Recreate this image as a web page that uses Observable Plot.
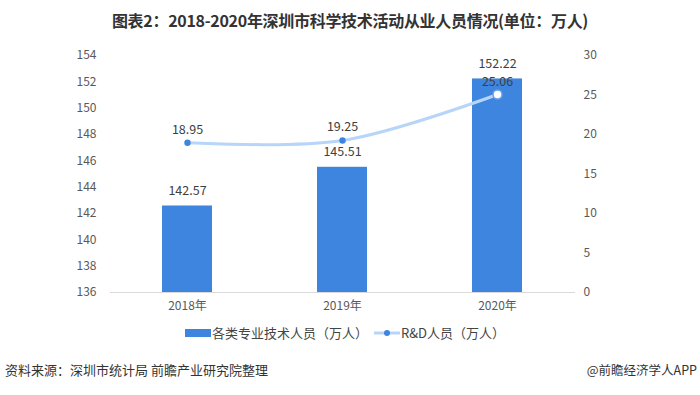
<!DOCTYPE html>
<html><head><meta charset="utf-8">
<script src="https://cdn.jsdelivr.net/npm/d3@7"></script>
<script src="https://cdn.jsdelivr.net/npm/@observablehq/plot@0.6"></script>
<style>
body{margin:0;background:#fff;font-family:"Noto Sans CJK SC","Noto Sans",sans-serif;}
#wrap{position:relative;width:700px;height:395px;overflow:hidden;}
#title{position:absolute;top:8px;left:0;width:700px;text-align:center;font-size:16px;line-height:24px;font-weight:bold;color:#333;letter-spacing:-0.3px;}
#chart{position:absolute;top:0;left:0;}
#legend{position:absolute;top:323px;left:0;width:700px;font-size:13px;color:#444;}
.li{position:absolute;display:flex;align-items:center;}
#src{position:absolute;top:360px;left:5px;font-size:13px;color:#333;}
#app{position:absolute;top:360px;right:3px;font-size:12.5px;color:#333;}
</style></head>
<body><div id="wrap">
<div id="title">图表2：2018-2020年深圳市科学技术活动从业人员情况(单位：万人)</div>
<div id="chart"></div>
<div id="legend">
 <div class="li" style="left:185px;top:0"><svg width="26" height="18"><rect x="0" y="5" width="26" height="8" fill="#3d85de"/></svg><span style="margin-left:1px">各类专业技术人员（万人）</span></div>
 <div class="li" style="left:374px;top:0"><svg width="26" height="18"><line x1="0" y1="9" x2="26" y2="9" stroke="#b7d5f8" stroke-width="3"/><circle cx="13" cy="9" r="3" fill="#3d85de"/></svg><span style="margin-left:1px">R&amp;D人员（万人）</span></div>
</div>
<div id="src">资料来源：深圳市统计局 前瞻产业研究院整理</div>
<div id="app">@前瞻经济学人APP</div>
</div>
<script>
const years = ["2018年","2019年","2020年"];
const techStaff = [142.57,145.51,152.22];
const rdStaff = [18.95,19.25,25.06];
const leftTicks = [136,138,140,142,144,146,148,150,152,154];
const rightTicks = [0,5,10,15,20,25,30];

const yMin = 136, yMax = 154, rMax = 30;
const toLeft = v => yMin + v / rMax * (yMax - yMin);
const bars = years.map((y,i)=>({year:y, v:techStaff[i]}));
const line = years.map((y,i)=>({year:y, v:rdStaff[i], ly:toLeft(rdStaff[i])}));
const last = line.slice(-1);

const chart = Plot.plot({
  width:700, height:320,
  marginTop:55, marginBottom:28, marginLeft:110, marginRight:125,
  style:{fontFamily:'"Noto Sans CJK SC","Noto Sans",sans-serif', fontSize:"12px", color:"#595959", background:"transparent"},
  x:{domain:years, paddingInner:0.677, paddingOuter:0.3385, align:0.5},
  y:{domain:[yMin,yMax]},
  marks:[
    Plot.axisY({ticks:leftTicks, tickSize:0, tickPadding:14, label:null, fill:"#595959", fontSize:12}),
    Plot.axisY({anchor:"right", ticks:rightTicks.map(toLeft), tickFormat:d=>String(Math.round((d-yMin)/(yMax-yMin)*rMax)), tickSize:0, tickPadding:8, label:null, fill:"#595959", fontSize:12}),
    Plot.axisX({tickSize:0, tickPadding:9, label:null, fill:"#595959", fontSize:12}),
    Plot.barY(bars, {x:"year", y1:yMin, y2:"v", fill:"#3d85de"}),
    Plot.ruleY([yMin], {stroke:"#d9d9d9", strokeWidth:1}),
    Plot.text(bars, {x:"year", y:"v", text:d=>d.v.toFixed(2), dy:-15, fill:"#404040", fontSize:12.5}),
    Plot.line(line, {x:"year", y:"ly", stroke:"#b7d5f8", strokeWidth:3, curve:"catmull-rom"}),
    Plot.dot(line, {x:"year", y:"ly", r:3.2, fill:"#3d85de"}),
    Plot.dot(last, {x:"year", y:"ly", r:4.5, fill:"#fff", stroke:"#6aa3e8", strokeWidth:1.5}),
    Plot.text(line, {x:"year", y:"ly", text:d=>d.v.toFixed(2), dy:-13, fill:"#404040", fontSize:12.5})
  ]
});
document.getElementById("chart").appendChild(chart);
</script>
</body></html>
